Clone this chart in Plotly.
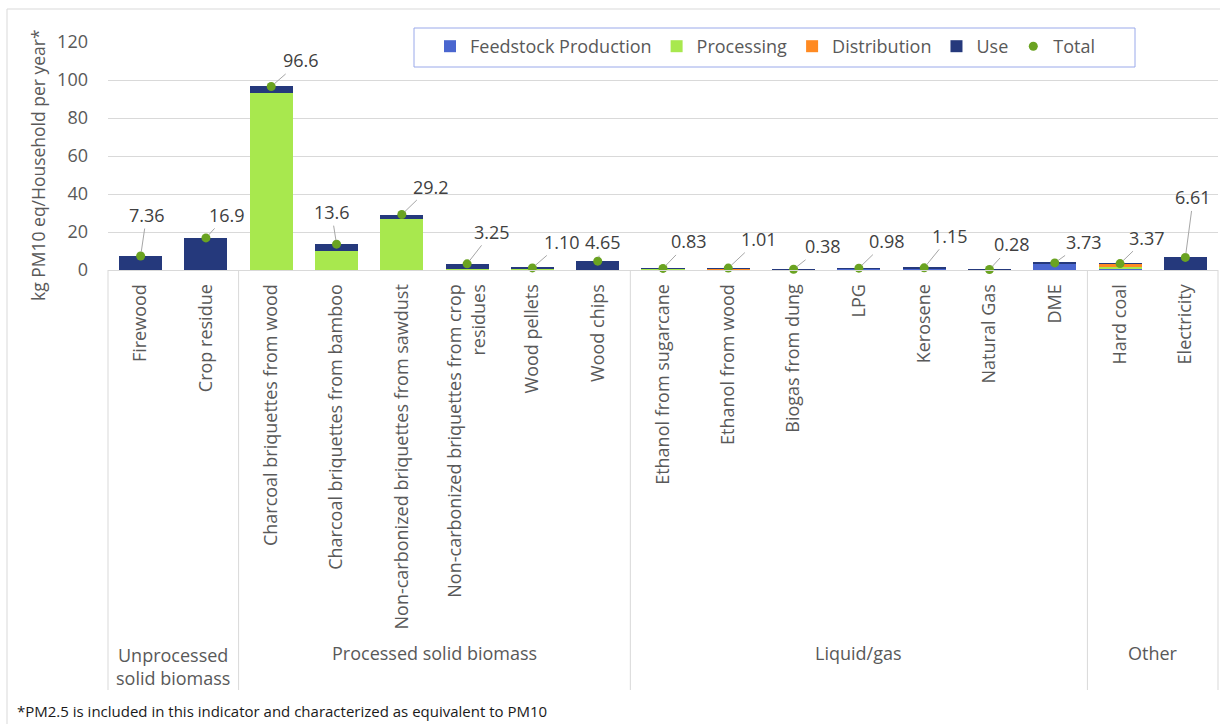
import numpy as np
import plotly.graph_objects as go

# Household cooking fuels, PM10-equivalent emissions by life-cycle stage
fuels = [
    "Firewood", "Crop residue",
    "Charcoal briquettes from wood", "Charcoal briquettes from bamboo",
    "Non-carbonized briquettes from sawdust",
    "Non-carbonized briquettes from crop<br>residues",
    "Wood pellets", "Wood chips",
    "Ethanol from sugarcane", "Ethanol from wood", "Biogas from dung",
    "LPG", "Kerosene", "Natural Gas", "DME",
    "Hard coal", "Electricity",
]
groups = ["Unprocessed<br>solid biomass", "Processed solid biomass", "Liquid/gas", "Other"]
group_sizes = [2, 6, 7, 2]

feedstock = [0, 0, 0, 0, 0, 0, 0.05, 0.10, 0.45, 0.10, 0.18, 0.70, 0.95, 0.20, 3.60, 0.60, 0]
processing = [0, 0, 93.0, 10.0, 26.8, 0.45, 0.60, 0, 0.10, 0.40, 0, 0, 0, 0, 0, 1.20, 0]
distribution = [0, 0, 0, 0, 0, 0, 0, 0, 0.05, 0.35, 0, 0.05, 0.05, 0, 0, 1.50, 0]
use = [7.36, 16.9, 3.6, 3.6, 2.4, 2.80, 0.45, 4.55, 0.23, 0.16, 0.20, 0.23, 0.15, 0.08, 0.13, 0.07, 6.61]

total = np.round(np.array(feedstock) + np.array(processing) + np.array(distribution) + np.array(use), 2)

y_ticks = [0, 20, 40, 60, 80, 100, 120]
y_title = "kg PM10 eq/Household per year*"
footnote = "*PM2.5 is included in this indicator and characterized as equivalent to PM10"

# pixel offsets (text centre relative to the total marker) for the value labels
label_offsets = [
    (6, -41), (21, -23), (30, -26), (-5, -32), (29, -28), (25, -32), (30, -26), (5, -19),
    (26, -27), (31, -29), (29, -23), (28, -27), (26, -32), (23, -25), (29, -21), (27, -26), (8, -60),
]

COLORS = {
    "Feedstock Production": "#4a66cf",
    "Processing": "#a8e84e",
    "Distribution": "#ff8a22",
    "Use": "#25397c",
}
TOTAL_COLOR = "#6aa321"
TEXT = "#595959"
GRID = "#d9d9d9"
FONT = "Open Sans"

W, H = 1220, 724
PLOT_L, PLOT_R, PLOT_T, PLOT_B = 108, 1218, 42, 270


def paper_x(px):
    return (px - PLOT_L) / (PLOT_R - PLOT_L)


def paper_y(py):
    return (PLOT_B - py) / (PLOT_B - PLOT_T)


x_idx = list(range(len(fuels)))

fig = go.Figure()
for name, vals in [("Feedstock Production", feedstock), ("Processing", processing),
                   ("Distribution", distribution), ("Use", use)]:
    fig.add_trace(go.Bar(
        x=x_idx, y=vals, name=name, marker=dict(color=COLORS[name], line=dict(width=0)),
        hoverinfo="y+name",
    ))

fig.add_trace(go.Scatter(
    x=x_idx, y=total, name="Total", mode="markers",
    marker=dict(color=TOTAL_COLOR, size=9), cliponaxis=False,
))


def fmt(v):
    return f"{v:.1f}" if v >= 10 else f"{v:.2f}"


annotations = []
for i, v in enumerate(total):
    ax, ay = label_offsets[i]
    annotations.append(dict(
        x=i, y=v, xref="x", yref="y", text=fmt(v), showarrow=True,
        ax=ax, ay=ay, arrowhead=0, arrowwidth=1, arrowcolor="#a6a6a6",
        xanchor="center", yanchor="middle",
        standoff=4, font=dict(family=FONT, size=18, color="#404040"),
    ))

# group labels beneath the category names, with vertical dividers between groups
shapes = []
start = 0
bounds = [-0.5]
n = len(fuels)
for g, size in zip(groups, group_sizes):
    centre = start + (size - 1) / 2
    annotations.append(dict(
        x=(centre + 0.5) / n, y=paper_y(666 if "<br>" in g else 653), xref="paper", yref="paper",
        text=g, showarrow=False, xanchor="center", yanchor="middle",
        font=dict(family=FONT, size=18, color=TEXT),
    ))
    start += size
    bounds.append(start - 0.5)

for b in bounds:
    xp = (b + 0.5) / n
    shapes.append(dict(type="line", xref="paper", yref="paper",
                       x0=xp, x1=xp, y0=0, y1=paper_y(690),
                       line=dict(color=GRID, width=1)))

# outer frame
shapes.append(dict(type="rect", xref="paper", yref="paper",
                   x0=paper_x(7), x1=paper_x(1240), y0=paper_y(740), y1=paper_y(9),
                   line=dict(color=GRID, width=1), layer="below"))

# legend frame
shapes.append(dict(type="rect", xref="paper", yref="paper",
                   x0=paper_x(414), x1=paper_x(1135), y0=paper_y(67), y1=paper_y(28),
                   line=dict(color="#9aa9ea", width=1), fillcolor="white", layer="above"))

# value-axis title
annotations.append(dict(
    x=paper_x(38), y=paper_y(165), xref="paper", yref="paper", xanchor="center", yanchor="middle",
    text=y_title, textangle=-90, showarrow=False,
    font=dict(family=FONT, size=17.5, color=TEXT),
))

annotations.append(dict(
    x=paper_x(15), y=paper_y(711), xref="paper", yref="paper", xanchor="left", yanchor="middle",
    text=footnote, showarrow=False, font=dict(family=FONT, size=15, color="#1a1a1a"),
))

fig.update_layout(
    width=W, height=H,
    margin=dict(l=PLOT_L, r=W - PLOT_R, t=PLOT_T, b=H - PLOT_B, autoexpand=False),
    template="none",
    paper_bgcolor="white", plot_bgcolor="white",
    barmode="stack", bargap=0.34,
    font=dict(family=FONT, size=18, color=TEXT),
    showlegend=True,
    legend=dict(
        orientation="h", x=paper_x(430), xanchor="left", y=paper_y(28), yanchor="top",
        borderwidth=0, bgcolor="rgba(0,0,0,0)",
        font=dict(family=FONT, size=18, color=TEXT), traceorder="normal",
    ),
    annotations=annotations,
    shapes=shapes,
)

fig.update_xaxes(
    range=[-0.5, n - 0.5], tickmode="array", tickvals=x_idx, ticktext=fuels,
    tickangle=-90, ticks="", showgrid=False, zeroline=False,
    showline=True, linecolor=GRID, linewidth=1,
    tickfont=dict(family=FONT, size=18, color=TEXT), ticklabelstandoff=6, automargin=False,
)
fig.update_yaxes(
    range=[0, 120], tickvals=y_ticks, showgrid=True, gridcolor=GRID, gridwidth=1,
    zeroline=False, showline=False, ticks="",
    tickfont=dict(family=FONT, size=18, color=TEXT), ticklabelstandoff=19,
    automargin=False,
)

fig.write_html("out.html")
